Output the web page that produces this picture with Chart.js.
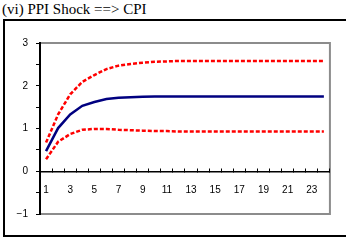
<!DOCTYPE html>
<html>
<head>
<title>PPI Shock ==> CPI</title>
<style>
body { margin:0; background:#fff; width:346px; height:242px; overflow:hidden; position:relative; }
#title {
    position:absolute; left:2px; top:2px;
    font-family:"Liberation Serif", serif; font-size:15px; line-height:15px;
    color:#000; white-space:nowrap;
}
#frame {
    position:absolute; left:3px; top:19px; width:360px; height:218px;
    box-sizing:border-box; border:2px solid #000;
}
#myChart { position:absolute; left:0; top:0; }
</style>
</head>
<body>
<div id="title">(vi) PPI Shock ==&gt; CPI</div>
<div id="frame"><canvas id="myChart" width="336" height="214"></canvas></div>
<script src="https://cdn.jsdelivr.net/npm/chart.js@4/dist/chart.umd.min.js"></script>
<script>
var periods = ['1','2','3','4','5','6','7','8','9','10','11','12','13','14','15','16','17','18','19','20','21','22','23','24'];
var response = [0.47,1.01,1.33,1.53,1.62,1.69,1.72,1.73,1.74,1.75,1.75,1.75,1.75,1.75,1.75,1.75,1.75,1.75,1.75,1.75,1.75,1.75,1.75,1.75];
var upperBand = [0.67,1.33,1.8,2.09,2.25,2.39,2.47,2.51,2.54,2.56,2.57,2.58,2.58,2.58,2.58,2.58,2.58,2.58,2.58,2.58,2.58,2.58,2.58,2.58];
var lowerBand = [0.28,0.69,0.87,0.97,0.99,0.99,0.97,0.96,0.95,0.94,0.94,0.93,0.93,0.93,0.93,0.93,0.93,0.93,0.93,0.93,0.93,0.93,0.93,0.93];
var yTicks = [-1, 0, 1, 2, 3];

// gray box round the plot area, drawn before the axes so the black axis sits on top
var plotBox = {
    id: 'plotBox',
    beforeDraw: function(chart) {
        var a = chart.chartArea, c = chart.ctx;
        c.save();
        c.strokeStyle = '#8c8c8c';
        c.lineWidth = 2;
        c.strokeRect(a.left, a.top, a.right - a.left, a.bottom - a.top);
        c.restore();
    }
};

function band(data) {
    return { data: data, borderColor: '#ff0000', borderWidth: 2.5, borderDash: [4, 2],
             pointRadius: 0, tension: 0, fill: false };
}

var config = {
    type: 'line',
    data: {
        labels: periods,
        datasets: [
            band(upperBand),
            { data: response, borderColor: '#000080', borderWidth: 2.5, pointRadius: 0, tension: 0, fill: false },
            band(lowerBand)
        ]
    },
    options: {
        responsive: false,
        animation: false,
        layout: { padding: { top: 22, right: 6, bottom: 21, left: 0 } },
        plugins: { legend: { display: false }, tooltip: { enabled: false } },
        scales: {
            x: {
                type: 'category',
                offset: true,
                position: { y: 0 },
                grid: { offset: true, drawOnChartArea: false, tickLength: -4, color: '#000', lineWidth: 1 },
                border: { color: '#000', width: 1.5 },
                ticks: {
                    autoSkip: false, maxRotation: 0, padding: 17, color: '#000',
                    font: { family: 'Liberation Sans', size: 10 },
                    callback: function(v, i) { return i % 2 === 0 ? this.getLabelForValue(v) : ''; }
                }
            },
            y: {
                min: yTicks[0], max: yTicks[yTicks.length - 1],
                afterFit: function(s) { s.width = 35; },
                grid: { drawOnChartArea: false, tickLength: 4, color: '#000' },
                border: { color: '#000', width: 2 },
                ticks: {
                    stepSize: 0.5, padding: 8, color: '#000',
                    font: { family: 'Liberation Sans', size: 10 },
                    callback: function(v) {
                        if (yTicks.indexOf(v) < 0) return '';
                        return v < 0 ? '\u2212' + Math.abs(v) : String(v);
                    }
                }
            }
        }
    },
    plugins: [plotBox]
};

window.onload = function() {
    var ctx = document.getElementById('myChart').getContext('2d');
    window.myLine = new Chart(ctx, config);
};
</script>
</body>
</html>
